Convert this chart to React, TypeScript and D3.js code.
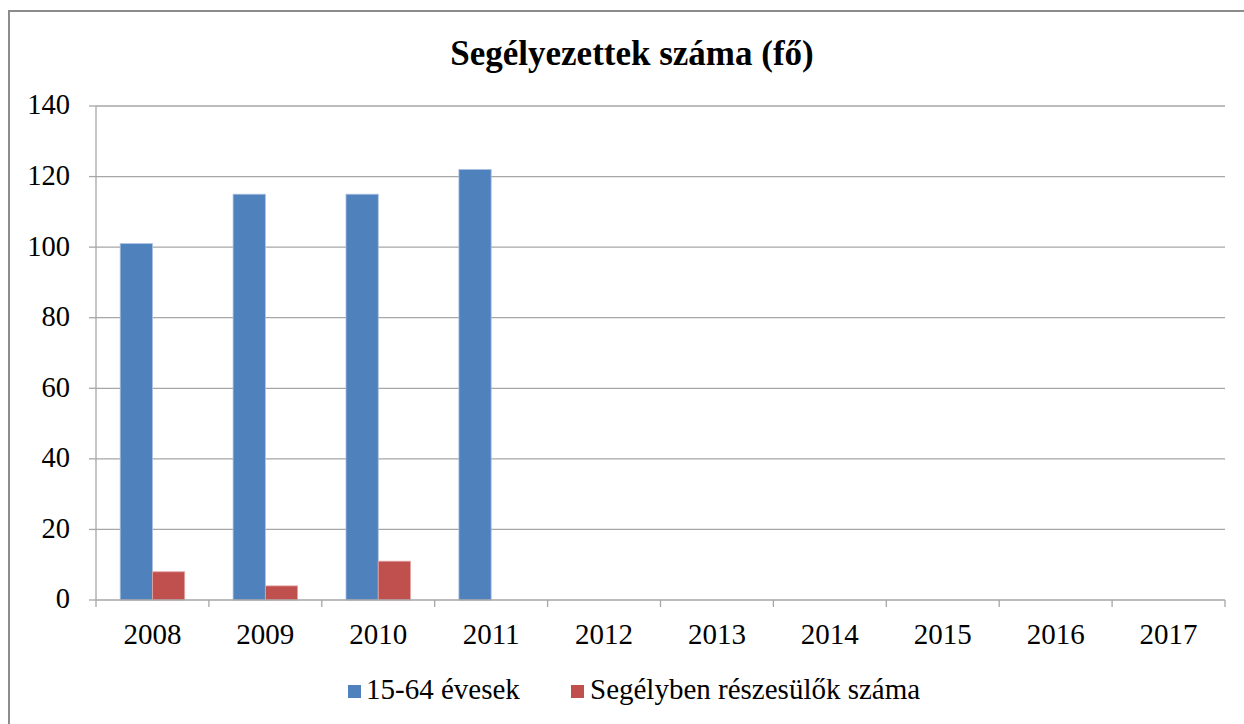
import React from "react";
import * as d3 from "d3";

const categories = ["2008", "2009", "2010", "2011", "2012", "2013", "2014", "2015", "2016", "2017"];
const seriesNames = ["15-64 évesek", "Segélyben részesülők száma"];
const workingAge = [101, 115, 115, 122, null, null, null, null, null, null];
const recipients = [8, 4, 11, null, null, null, null, null, null, null];
const yTicks = [0, 20, 40, 60, 80, 100, 120, 140];
const colors = ["#4F81BD", "#C0504D"];

export default function App() {
  const W = 1244, H = 724;
  const left = 96, right = 1225, top = 106, bottom = 600;
  const x = d3.scaleBand().domain(categories).range([left, right]).paddingInner(0).paddingOuter(0);
  const y = d3.scaleLinear().domain([0, 140]).range([bottom, top]);
  const bw = x.bandwidth() / 3.5;
  const series = [workingAge, recipients];
  const font = "'Liberation Serif', 'Times New Roman', serif";
  const legendItems = [
    { sx: 348, tx: 366 },
    { sx: 571, tx: 590 },
  ];
  return (
    <svg width={W} height={H} style={{ position: "absolute", left: 0, top: 0 }}>
      <rect x={0} y={0} width={W} height={H} fill="#fff" />
      <rect x={9} y={11} width={1260} height={740} fill="#fff" stroke="#8C8C8C" strokeWidth={2} />
      <text x={632} y={65} textAnchor="middle" fontFamily={font} fontWeight="bold" fontSize={35} fill="#000">
        Segélyezettek száma (fő)
      </text>
      {yTicks.map((t) => (
        <g key={t}>
          {t > 0 && <line x1={left} x2={right} y1={y(t)} y2={y(t)} stroke="#A6A6A6" strokeWidth={1.3} />}
          <line x1={left - 7} x2={left} y1={y(t)} y2={y(t)} stroke="#A6A6A6" strokeWidth={1.3} />
          <text x={70} y={y(t) + 8.4} textAnchor="end" fontFamily={font} fontSize={28.5} fill="#000">
            {t}
          </text>
        </g>
      ))}
      {series.map((vals, si) =>
        vals.map((v, i) =>
          v == null ? null : (
            <rect
              key={si + "-" + i}
              x={(x(categories[i]) as number) + bw * 0.75 + si * bw}
              y={y(v)}
              width={bw}
              height={y(0) - y(v)}
              fill={colors[si]}
              stroke={si === 0 ? "#A9C0E0" : "#E0A8A6"}
              strokeWidth={0.8}
            />
          )
        )
      )}
      <line x1={left} x2={left} y1={top} y2={bottom} stroke="#A6A6A6" strokeWidth={1.3} />
      <line x1={left} x2={right} y1={bottom} y2={bottom} stroke="#A6A6A6" strokeWidth={1.3} />
      {[...categories.map((c) => x(c) as number), right].map((px, i) => (
        <line key={"t" + i} x1={px} x2={px} y1={bottom} y2={bottom + 7} stroke="#A6A6A6" strokeWidth={1.3} />
      ))}
      {categories.map((c) => (
        <text key={c} x={(x(c) as number) + x.bandwidth() / 2} y={644} textAnchor="middle" fontFamily={font} fontSize={29} fill="#000">
          {c}
        </text>
      ))}
      <g>
        {legendItems.map((it, i) => (
          <g key={i}>
            <rect x={it.sx} y={685} width={13} height={13} fill={colors[i]} />
            <text x={it.tx} y={699} fontFamily={font} fontSize={29} fill="#000">{seriesNames[i]}</text>
          </g>
        ))}
      </g>
    </svg>
  );
}
